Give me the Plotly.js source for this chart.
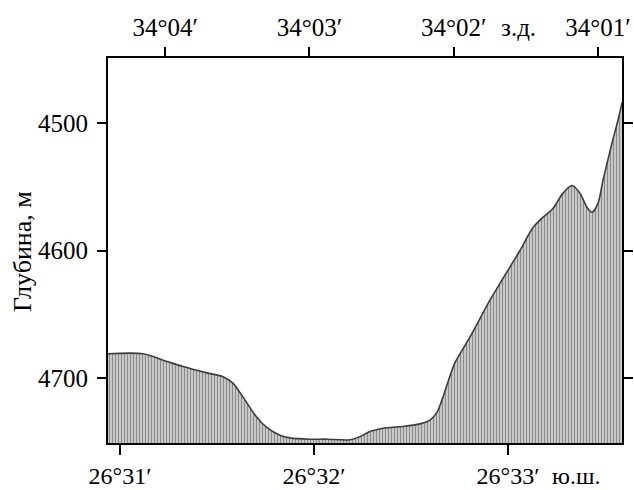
<!DOCTYPE html>
<html>
<head>
<meta charset="utf-8">
<script src="https://cdn.plot.ly/plotly-3.0.1.min.js"></script>
<style>html,body{margin:0;padding:0;background:#fff;}#chart{width:634px;height:490px;}</style>
</head>
<body>
<div id="chart"></div>
<script>
// latitude, minutes past 26°
const latMin = [30.938,31.119,31.242,31.325,31.448,31.531,31.582,31.634,31.706,31.758,31.825,31.876,31.979,32.067,32.186,32.237,32.289,32.376,32.459,32.546,32.598,32.634,32.665,32.691,32.727,32.804,32.907,33.010,33.062,33.129,33.180,33.232,33.284,33.330,33.371,33.407,33.433,33.464,33.490,33.536,33.567,33.588];
// depth, m
const depth = [4681,4681,4687,4691,4696,4699,4704,4715,4731,4739,4745,4747,4748,4748,4748.5,4746,4742,4739,4738,4736,4733,4727,4715,4703,4688,4668,4639,4613,4600,4582,4574,4567,4555,4549,4555,4566,4570,4563,4545,4516,4498,4484];
const bottomTicks = [31,32,33];
const bottomLabels = ['26°31′','26°32′','26°33′'];
const topTicks = [4,3,2,1];
const topLabels = ['34°04′','34°03′','34°02′','34°01′'];
const yTicks = [4500,4600,4700];
const yTitle = 'Глубина, м';
const baseDepth = latMin.map(()=>4800);

const FAM = 'Liberation Serif, Times New Roman, serif';
const font = {family:FAM, size:25, color:'#000'};
const bfont = {family:FAM, size:24, color:'#000'};

const traces = [
  {x:latMin, y:baseDepth, mode:'lines', line:{width:0}, hoverinfo:'skip', showlegend:false},
  {x:latMin, y:depth, mode:'lines', line:{color:'#3c3c3c', width:1.6, shape:'spline', smoothing:0.8},
   fill:'tonexty', fillcolor:'#b5b5b5',
   fillpattern:{shape:'|', size:3, solidity:0.35, fgcolor:'#8a8a8a', bgcolor:'#c8c8c8'},
   showlegend:false},
  {x:[4,1], y:[4600,4600], xaxis:'x2', mode:'markers', marker:{opacity:0}, hoverinfo:'skip', showlegend:false}
];

const layout = {
  width:634, height:490,
  margin:{l:108, r:12, t:58, b:47},
  paper_bgcolor:'#fff', plot_bgcolor:'#fff',
  font: font,
  showlegend:false,
  xaxis:{range:[30.938,33.588], tickvals:bottomTicks, ticktext:bottomLabels,
    ticks:'outside', ticklen:10, tickwidth:2, tickcolor:'#000', ticklabelstandoff:0,
    showline:true, linewidth:2, linecolor:'#000', mirror:true,
    showgrid:false, zeroline:false, tickfont:bfont},
  xaxis2:{overlaying:'x', side:'top', range:[4.396,0.833], tickvals:topTicks, ticktext:topLabels,
    ticks:'outside', ticklen:10, tickwidth:2, tickcolor:'#000', ticklabelstandoff:1,
    showline:false, showgrid:false, zeroline:false, tickfont:font},
  yaxis:{range:[4751,4449], tickvals:yTicks, ticks:'outside', ticklen:9, tickwidth:2, tickcolor:'#000',
    ticklabelstandoff:4,
    showline:true, linewidth:2, linecolor:'#000', mirror:'ticks',
    showgrid:false, zeroline:false, tickfont:font},
  annotations:[
    {text:yTitle, xref:'paper', yref:'paper', x:(23-108)/514, y:(443-252)/385, textangle:-90, xanchor:'center', yanchor:'middle', showarrow:false, font:{family:FAM, size:26, color:'#000'}},
    {text:'з.д.', xref:'paper', yref:'paper', x:(499-108)/514, y:1, yshift:31, xanchor:'left', yanchor:'middle', showarrow:false, font:{family:FAM, size:25, color:'#000'}},
    {text:'ю.ш.', xref:'paper', yref:'paper', x:(550-108)/514, y:0, yshift:-33, xanchor:'left', yanchor:'middle', showarrow:false, font:{family:FAM, size:24, color:'#000'}}
  ]
};

Plotly.newPlot('chart', traces, layout, {displayModeBar:false, staticPlot:true});
</script>
</body>
</html>
